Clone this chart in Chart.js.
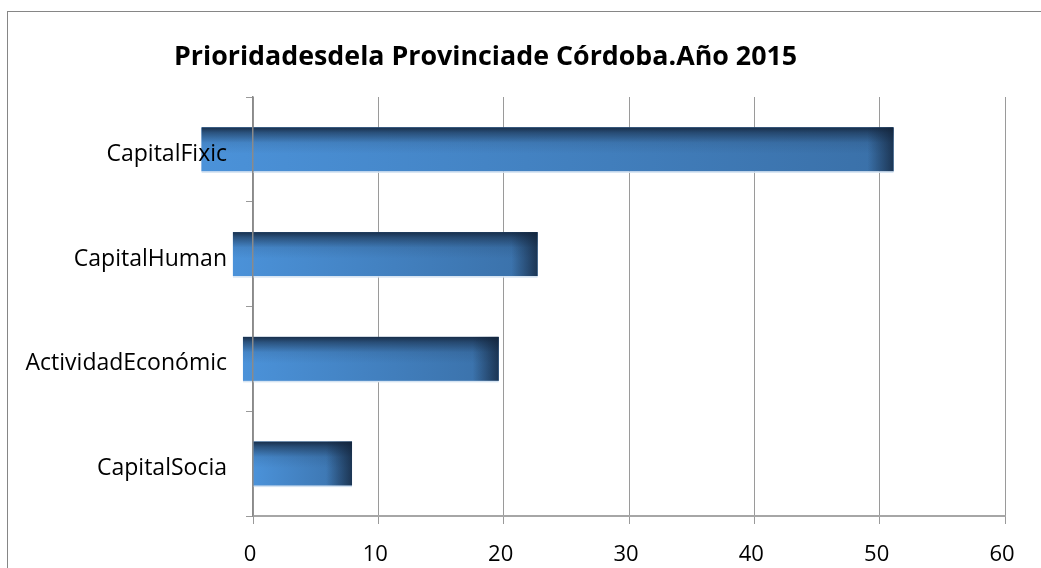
<!DOCTYPE html>
<html>
<head>
<meta charset="utf-8">
<script src="https://cdn.jsdelivr.net/npm/chart.js@4/dist/chart.umd.min.js"></script>
<style>
  html, body { margin: 0; padding: 0; background: #ffffff; }
  #wrap { position: relative; width: 1041px; height: 568px; overflow: hidden; }
  #frame { position: absolute; left: 7px; top: 11px; width: 1040px; height: 600px; border: 1px solid #868686; box-sizing: border-box; }
  canvas { position: absolute; left: 0; top: 0; }
</style>
</head>
<body>
<div id="wrap">
  <div id="frame"></div>
  <canvas id="c" width="1041" height="568"></canvas>
</div>
<script>
const titleText = 'Prioridadesdela Provinciade Córdoba.Año 2015';
const categories = ['CapitalFixic', 'CapitalHuman', 'ActividadEconómic', 'CapitalSocia'];
const barStarts = [-4.1, -1.6, -0.8, 0];
const barEnds = [51.1, 22.7, 19.6, 7.9];
const xTickValues = [0, 10, 20, 30, 40, 50, 60];

const FONT = "'Open Sans', 'Noto Sans', sans-serif";

const titlePlugin = {
  id: 'titleText',
  afterDraw(chart) {
    const ctx = chart.ctx;
    ctx.save();
    ctx.font = "bold 26.8px " + FONT;
    ctx.fillStyle = '#000';
    ctx.textBaseline = 'middle';
    ctx.textAlign = 'left';
    ctx.fillText(titleText, 174, 57);
    ctx.restore();
  }
};

const shadePlugin = {
  id: 'barShade',
  afterDatasetsDraw(chart) {
    const ctx = chart.ctx;
    const meta = chart.getDatasetMeta(0);
    meta.data.forEach((el) => {
      const p = el.getProps(['x', 'y', 'base', 'height'], true);
      const left = Math.min(p.x, p.base), right = Math.max(p.x, p.base);
      const top = p.y - p.height / 2, h = p.height, w = right - left;
      ctx.save();
      let g = ctx.createLinearGradient(left, 0, right, 0);
      g.addColorStop(0, '#4b92d9');
      g.addColorStop(1, '#3a70a8');
      ctx.fillStyle = g;
      ctx.fillRect(left, top, w, h);
      g = ctx.createLinearGradient(0, top, 0, top + h);
      g.addColorStop(0, 'rgba(22,42,68,0.95)');
      g.addColorStop(0.12, 'rgba(22,42,68,0.6)');
      g.addColorStop(0.35, 'rgba(22,42,68,0.12)');
      g.addColorStop(0.6, 'rgba(22,42,68,0)');
      g.addColorStop(1, 'rgba(22,42,68,0)');
      ctx.fillStyle = g;
      ctx.fillRect(left, top, w, h);
      const d = Math.min(26, w * 0.3);
      g = ctx.createLinearGradient(right - d, 0, right, 0);
      g.addColorStop(0, 'rgba(18,34,56,0)');
      g.addColorStop(1, 'rgba(18,34,56,0.75)');
      ctx.fillStyle = g;
      ctx.fillRect(right - d, top, d, h);
      ctx.fillStyle = '#d4e3f2';
      ctx.fillRect(left, top + h, w, 1.5);
      ctx.restore();
    });
  }
};

new Chart(document.getElementById('c'), {
  type: 'bar',
  data: {
    labels: categories,
    datasets: [{
      data: categories.map((c, i) => [barStarts[i], barEnds[i]]),
      backgroundColor: '#4685c6',
      borderWidth: 0,
      barPercentage: 0.42,
      categoryPercentage: 1,
      clip: false
    }]
  },
  options: {
    indexAxis: 'y',
    responsive: false,
    animation: false,
    layout: { padding: { top: 97, right: 36, left: 0, bottom: 0 } },
    plugins: {
      legend: { display: false },
      title: { display: false },
      tooltip: { enabled: false }
    },
    scales: {
      x: {
        type: 'linear',
        min: 0,
        max: 60,
        afterBuildTicks(scale) { scale.ticks = xTickValues.map(v => ({ value: v })); },
        afterFit(scale) { scale.height = 52; },
        ticks: {
          font: { family: FONT, size: 22 },
          color: '#000',
          padding: 18,
          labelOffset: -3
        },
        grid: {
          color: '#9a9a9a',
          lineWidth: 1,
          tickLength: 8,
          drawTicks: true
        },
        border: { color: '#a6a6a6', width: 2 }
      },
      y: {
        afterFit(scale) { scale.width = 253; },
        ticks: {
          z: 1,
          font: { family: FONT, size: 23 },
          color: '#000',
          padding: 19,
          labelOffset: 5
        },
        grid: {
          display: true,
          drawOnChartArea: false,
          drawTicks: true,
          tickLength: 7,
          color: '#9a9a9a',
          lineWidth: 1
        },
        border: { z: 1, color: '#8a8a8a', width: 1.5 }
      }
    }
  },
  plugins: [shadePlugin, titlePlugin]
});
</script>
</body>
</html>
